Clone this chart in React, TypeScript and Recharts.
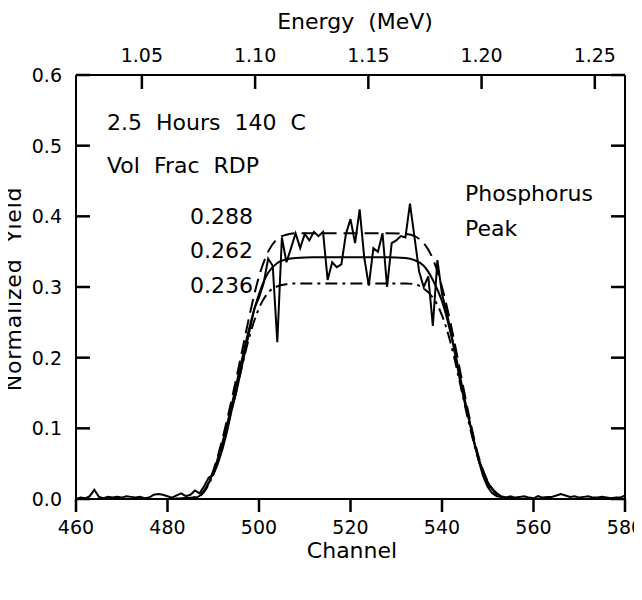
import React from 'react';
import { LineChart, Line, XAxis, YAxis } from 'recharts';

// measured spectrum, one value per channel (460..580)
const channels: number[] = Array.from({ length: 121 }, (_, i) => 460 + i);
const measured: number[] = [
  0.000, 0.002, 0.001, 0.004, 0.013, 0.003, 0.001, 0.003, 0.002, 0.003,
  0.002, 0.004, 0.003, 0.002, 0.003, 0.001, 0.002, 0.006, 0.007, 0.006,
  0.004, 0.002, 0.005, 0.008, 0.004, 0.006, 0.012, 0.008, 0.018, 0.030,
  0.034, 0.050, 0.070, 0.095, 0.125, 0.150, 0.180, 0.210, 0.240, 0.270,
  0.285, 0.305, 0.340, 0.330, 0.222, 0.370, 0.335, 0.355, 0.376, 0.355,
  0.375, 0.366, 0.378, 0.372, 0.378, 0.310, 0.335, 0.328, 0.332, 0.375,
  0.396, 0.362, 0.410, 0.342, 0.302, 0.355, 0.350, 0.376, 0.300, 0.362,
  0.366, 0.372, 0.370, 0.418, 0.370, 0.322, 0.300, 0.315, 0.245, 0.338,
  0.290, 0.265, 0.235, 0.200, 0.165, 0.135, 0.110, 0.080, 0.055, 0.032,
  0.017, 0.008, 0.004, 0.003, 0.002, 0.004, 0.002, 0.003, 0.004, 0.002,
  0.001, 0.004, 0.002, 0.003, 0.003, 0.005, 0.007, 0.005, 0.003, 0.004,
  0.002, 0.003, 0.004, 0.002, 0.002, 0.003, 0.002, 0.001, 0.002, 0.002,
  0.005,
];

// simulated profiles for three RDP volume fractions
const fitChannels: number[] = [
  460, 480, 486, 488, 490, 492, 494, 496, 498, 500, 502, 504, 506, 508, 512, 520,
  528, 532, 534, 536, 538, 540, 542, 544, 546, 548, 550, 552, 554, 560, 580,
];
const fit288: number[] = [
  0, 0, 0.002, 0.012, 0.04, 0.085, 0.14, 0.2, 0.262, 0.315, 0.35, 0.368, 0.374, 0.376, 0.376, 0.376,
  0.376, 0.375, 0.372, 0.362, 0.34, 0.3, 0.245, 0.18, 0.115, 0.06, 0.025, 0.008, 0.002, 0, 0,
];
const fit262: number[] = [
  0, 0, 0.002, 0.011, 0.038, 0.08, 0.132, 0.19, 0.245, 0.29, 0.32, 0.334, 0.339, 0.341, 0.342, 0.342,
  0.342, 0.341, 0.338, 0.33, 0.31, 0.28, 0.232, 0.172, 0.11, 0.058, 0.024, 0.007, 0.002, 0, 0,
];
const fit236: number[] = [
  0, 0, 0.002, 0.01, 0.035, 0.076, 0.125, 0.18, 0.232, 0.27, 0.292, 0.301, 0.304, 0.305, 0.305, 0.305,
  0.305, 0.305, 0.304, 0.298, 0.285, 0.26, 0.218, 0.162, 0.104, 0.055, 0.022, 0.006, 0.001, 0, 0,
];

const channelTicks = [460, 480, 500, 520, 540, 560, 580];
const yieldTicks = [0, 0.1, 0.2, 0.3, 0.4, 0.5, 0.6];
const energyTicks = [1.05, 1.1, 1.15, 1.2, 1.25];

// energy calibration: channel of 1.05 MeV and channels per MeV
const CH_AT_105 = 474.4;
const CH_PER_MEV = 495;
const energyToChannel = (e: number) => CH_AT_105 + (e - 1.05) * CH_PER_MEV;
const channelToEnergy = (c: number) => 1.05 + (c - CH_AT_105) / CH_PER_MEV;

const toPoints = (xs: number[], ys: number[]) => xs.map((x, i) => ({ ch: x, y: ys[i] }));
const measuredData = toPoints(channels, measured);
const fit288Data = toPoints(fitChannels, fit288);
const fit262Data = toPoints(fitChannels, fit262);
const fit236Data = toPoints(fitChannels, fit236);

const FONT = '"DejaVu Sans", sans-serif';
const W = 642;
const H = 600;
const TICK = 14;
const INK = '#000';

// ticks on the left, top and right point into the plot
const LeftTick = (props: any) => {
  const { x, y, payload } = props;
  const ax = x + 14;
  return (
    <g>
      <rect x={ax} y={y - 1.25} width={TICK} height={2.5} fill={INK} stroke="none" />
      <text x={x} y={y} dy="0.36em" textAnchor="end" fontSize={19} fontFamily={FONT} fill={INK}>
        {Number(payload.value).toFixed(1)}
      </text>
    </g>
  );
};

const RightTick = (props: any) => {
  const { x, y } = props;
  return <rect x={x - TICK} y={y - 1.25} width={TICK} height={2.5} fill={INK} stroke="none" />;
};

const TopTick = (props: any) => {
  const { x, y, payload } = props;
  const ay = y + 13;
  return (
    <g>
      <rect x={x - 1.25} y={ay} width={2.5} height={TICK} fill={INK} stroke="none" />
      <text x={x} y={y} textAnchor="middle" fontSize={19} fontFamily={FONT} fill={INK}>
        {channelToEnergy(payload.value).toFixed(2)}
      </text>
    </g>
  );
};

// bottom ticks point outward, below the axis
const BottomTick = (props: any) => {
  const { x, y, payload } = props;
  const ay = y - 22;
  return (
    <g>
      <rect x={x - 1.25} y={ay} width={2.5} height={13} fill={INK} stroke="none" />
      <text x={x} y={y} dy="0.71em" textAnchor="middle" fontSize={19} fontFamily={FONT} fill={INK}>
        {payload.value}
      </text>
    </g>
  );
};

const txt = { fontFamily: FONT, fill: INK, whiteSpace: 'pre' as const };

export default function App() {
  return (
    <div style={{ position: 'relative', width: W, height: H, margin: -8, background: '#fff' }}>
      <LineChart width={W} height={H} margin={{ top: 0, right: 0, bottom: 0, left: 0 }}>
        <XAxis
          xAxisId="bottom"
          dataKey="ch"
          type="number"
          domain={[460, 580]}
          ticks={channelTicks}
          interval={0}
          height={101}
          allowDataOverflow
          axisLine={{ stroke: INK, strokeWidth: 2 }}
          tickLine={false}
          tickSize={0}
          tickMargin={22}
          tick={<BottomTick />}
        />
        <XAxis
          xAxisId="top"
          orientation="top"
          dataKey="ch"
          type="number"
          domain={[460, 580]}
          ticks={energyTicks.map(energyToChannel)}
          interval={0}
          height={75}
          allowDataOverflow
          axisLine={{ stroke: INK, strokeWidth: 2 }}
          tickLine={false}
          tickSize={0}
          tickMargin={13}
          tick={<TopTick />}
        />
        <YAxis
          yAxisId="left"
          type="number"
          domain={[0, 0.6]}
          ticks={yieldTicks}
          interval={0}
          width={76}
          allowDataOverflow
          axisLine={{ stroke: INK, strokeWidth: 2 }}
          tickLine={false}
          tickSize={0}
          tickMargin={14}
          tick={<LeftTick />}
        />
        <YAxis
          yAxisId="right"
          orientation="right"
          type="number"
          domain={[0, 0.6]}
          ticks={yieldTicks}
          interval={0}
          width={17}
          allowDataOverflow
          axisLine={{ stroke: INK, strokeWidth: 2 }}
          tickLine={false}
          tickSize={0}
          tickMargin={0}
          tick={<RightTick />}
        />
        <Line
          xAxisId="top"
          yAxisId="right"
          data={fit288Data}
          dataKey="y"
          type="monotone"
          stroke={INK}
          strokeWidth={2}
          strokeDasharray="14 7"
          dot={false}
          isAnimationActive={false}
        />
        <Line
          xAxisId="top"
          yAxisId="right"
          data={fit262Data}
          dataKey="y"
          type="monotone"
          stroke={INK}
          strokeWidth={2}
          dot={false}
          isAnimationActive={false}
        />
        <Line
          xAxisId="bottom"
          yAxisId="left"
          data={fit236Data}
          dataKey="y"
          type="monotone"
          stroke={INK}
          strokeWidth={2}
          strokeDasharray="12 5 3 5"
          dot={false}
          isAnimationActive={false}
        />
        <Line
          xAxisId="bottom"
          yAxisId="left"
          data={measuredData}
          dataKey="y"
          type="linear"
          stroke={INK}
          strokeWidth={2}
          dot={false}
          isAnimationActive={false}
        />
      </LineChart>
      <svg
        width={W}
        height={H}
        style={{ position: 'absolute', left: 0, top: 0, pointerEvents: 'none' }}
      >
        <text x={355} y={29} textAnchor="middle" fontSize={22} style={txt}>{'Energy  (MeV)'}</text>
        <text x={352} y={558} textAnchor="middle" fontSize={22} style={txt}>Channel</text>
        <text
          x={21}
          y={289}
          textAnchor="middle"
          fontSize={22}
          letterSpacing={0.8}
          transform="rotate(-90 21 289)"
          style={txt}
        >
          {'Normalized  Yield'}
        </text>
        <text x={107} y={130} fontSize={22} style={txt}>{'2.5  Hours  140  C'}</text>
        <text x={107} y={173} fontSize={22} style={txt}>{'Vol  Frac  RDP'}</text>
        <text x={190} y={224} fontSize={22} style={txt}>0.288</text>
        <text x={190} y={258} fontSize={22} style={txt}>0.262</text>
        <text x={190} y={293} fontSize={22} style={txt}>0.236</text>
        <text x={465} y={201} fontSize={22} style={txt}>Phosphorus</text>
        <text x={465} y={236} fontSize={22} style={txt}>Peak</text>
      </svg>
    </div>
  );
}
